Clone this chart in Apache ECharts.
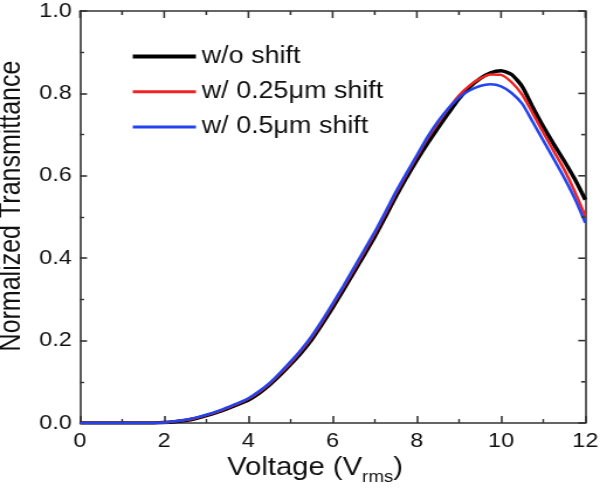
<!DOCTYPE html>
<html>
<head>
<meta charset="utf-8">
<script src="https://cdn.jsdelivr.net/npm/echarts@6/dist/echarts.min.js"></script>
<style>
html,body{margin:0;padding:0;background:#fff;overflow:hidden;width:600px;height:497px;}
#c{width:513px;height:497px;transform:scaleX(1.1696);transform-origin:0 0;}
</style>
</head>
<body>
<div id="c"></div>
<script>
const voltage = [0,0.25,0.5,0.75,1,1.25,1.5,1.75,2,2.25,2.5,2.75,3,3.25,3.5,3.75,4,4.25,4.5,4.75,5,5.25,5.5,5.75,6,6.25,6.5,6.75,7,7.25,7.5,7.75,8,8.25,8.5,8.75,9,9.25,9.5,9.75,10,10.25,10.5,10.75,11,11.25,11.5,11.75,12];
const noShift = [0,0,0,0,0,0,0,0,0.001,0.003,0.006,0.011,0.018,0.026,0.035,0.045,0.056,0.072,0.092,0.116,0.142,0.170,0.202,0.240,0.280,0.322,0.365,0.408,0.452,0.500,0.549,0.595,0.638,0.678,0.716,0.752,0.787,0.815,0.836,0.850,0.855,0.846,0.817,0.767,0.720,0.677,0.636,0.592,0.542];
const shift025 = [0,0,0,0,0,0,0,0,0.001,0.004,0.007,0.012,0.019,0.027,0.037,0.047,0.059,0.075,0.095,0.120,0.146,0.175,0.208,0.246,0.287,0.329,0.372,0.416,0.460,0.508,0.557,0.603,0.647,0.690,0.728,0.763,0.795,0.819,0.836,0.846,0.845,0.827,0.797,0.752,0.705,0.660,0.615,0.562,0.502];
const shift05 = [0,0,0,0,0,0,0,0,0.001,0.004,0.008,0.013,0.020,0.028,0.038,0.048,0.060,0.077,0.097,0.122,0.149,0.178,0.211,0.249,0.290,0.332,0.376,0.420,0.464,0.512,0.561,0.606,0.650,0.694,0.732,0.764,0.790,0.807,0.818,0.822,0.817,0.801,0.775,0.731,0.686,0.641,0.595,0.545,0.486];
const seriesNames = ['w/o shift','w/ 0.25\u03bcm shift','w/ 0.5\u03bcm shift'];
const xTickValues = [0,1,2,3,4,5,6,7,8,9,10,11,12];
const yTickValues = [0,0.1,0.2,0.3,0.4,0.5,0.6,0.7,0.8,0.9,1.0];

const pair = arr => voltage.map((v,i)=>[v,arr[i]]);
const axisColor = '#333';
const textColor = '#111';
const font = 'Liberation Sans, Arial, sans-serif';
const mkLine = () => ({show:true, onZero:false, lineStyle:{color:axisColor,width:1.6}});

// top and right ticks drawn through the axes' own scales
function topTickRender(params, api){
  const v = api.value(0);
  const len = Math.round(v) % 2 === 0 ? 7 : 4;
  const t = api.coord([v, 1]);
  return {type:'line', shape:{x1:t[0],y1:t[1],x2:t[0],y2:t[1]+len}, style:{stroke:axisColor,lineWidth:1.6}};
}
function rightTickRender(params, api){
  const v = api.value(1);
  const len = Math.round(v*10) % 2 === 0 ? 6 : 3.5;
  const r = api.coord([12, v]);
  return {type:'line', shape:{x1:r[0],y1:r[1],x2:r[0]-len,y2:r[1]}, style:{stroke:axisColor,lineWidth:1.6}};
}

const chart = echarts.init(document.getElementById('c'));
chart.setOption({
  animation:false,
  grid:{left:68.4,right:12.6,top:11,bottom:74,outerBoundsMode:'none'},
  legend:{
    left:108.5, top:40, orient:'vertical', itemWidth:54, itemHeight:14, itemGap:12.2,
    itemStyle:{borderWidth:0},
    textStyle:{fontFamily:font,fontSize:23,color:textColor},
    data:[
      {name:seriesNames[0], icon:'path://M0 0H54V4H0Z'},
      {name:seriesNames[1], icon:'path://M0 0H54V3H0Z'},
      {name:seriesNames[2], icon:'path://M0 0H54V3H0Z'}
    ]
  },
  xAxis:[{
    type:'value', min:0, max:12, interval:2,
    name:'{a|Voltage (V}{b|rms}{a|)}', nameLocation:'middle', nameGap:30,
    nameTextStyle:{padding:[0,30,0,0],rich:{a:{fontFamily:font,fontSize:25,color:textColor,verticalAlign:'top'},b:{fontFamily:font,fontSize:16,color:textColor,verticalAlign:'top',padding:[14,0,0,0]}}},
    axisLine:mkLine(),
    axisTick:{show:true,inside:true,length:7,lineStyle:{color:axisColor,width:1.6}},
    minorTick:{show:true,splitNumber:2,length:4,lineStyle:{color:axisColor,width:1.4}},
    axisLabel:{fontFamily:font,fontSize:20,color:textColor,margin:8},
    splitLine:{show:false}, minorSplitLine:{show:false}
  },{
    type:'value', min:0, max:12, interval:2, position:'top',
    axisLine:mkLine(), axisTick:{show:false}, minorTick:{show:false},
    axisLabel:{show:false}, splitLine:{show:false}
  }],
  yAxis:[{
    type:'value', min:0, max:1, interval:0.2,
    name:'Normalized Transmittance', nameLocation:'middle', nameGap:42,
    nameTextStyle:{fontFamily:font,fontSize:25,color:textColor,padding:[0,0,0,22]},
    axisLine:mkLine(),
    axisTick:{show:true,inside:true,length:6,lineStyle:{color:axisColor,width:1.6}},
    minorTick:{show:true,splitNumber:2,length:3.5,lineStyle:{color:axisColor,width:1.4}},
    axisLabel:{fontFamily:font,fontSize:20,color:textColor,margin:7,formatter:v=>v.toFixed(1)},
    splitLine:{show:false}, minorSplitLine:{show:false}
  },{
    type:'value', min:0, max:1, interval:0.2, position:'right',
    axisLine:mkLine(), axisTick:{show:false}, minorTick:{show:false},
    axisLabel:{show:false}, splitLine:{show:false}
  }],
  series:[
    {name:seriesNames[0], type:'line', data:pair(noShift), smooth:0.2, symbol:'none', color:'#000', lineStyle:{color:'#000',width:3.5}},
    {name:seriesNames[1], type:'line', data:pair(shift025), smooth:0.2, symbol:'none', color:'#f02222', lineStyle:{color:'#f02222',width:2.5}},
    {name:seriesNames[2], type:'line', data:pair(shift05), smooth:0.2, symbol:'none', color:'#2244f0', lineStyle:{color:'#2244f0',width:2.5}},
    {name:'topTicks', type:'custom', clip:false, z:5, data:xTickValues.map(v=>[v,1]), renderItem:topTickRender},
    {name:'rightTicks', type:'custom', clip:false, z:5, data:yTickValues.map(v=>[12,v]), renderItem:rightTickRender}
  ]
});
</script>
</body>
</html>
